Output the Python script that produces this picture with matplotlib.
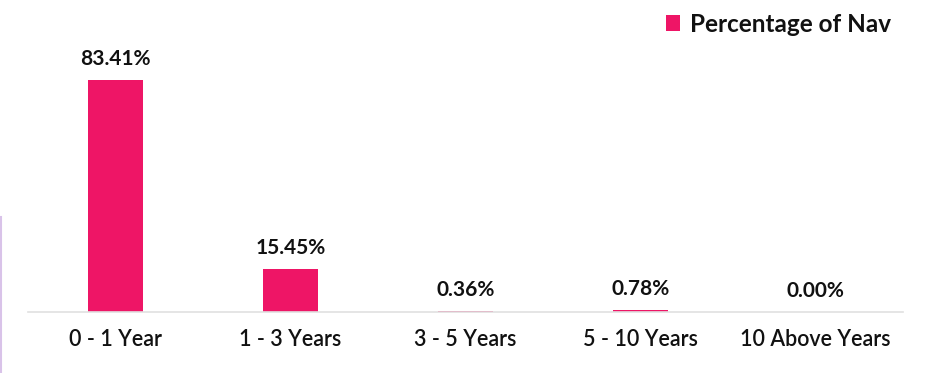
import matplotlib.pyplot as plt
from matplotlib.lines import Line2D

categories = ["0 - 1 Year", "1 - 3 Years", "3 - 5 Years", "5 - 10 Years", "10 Above Years"]
values = [83.41, 15.45, 0.36, 0.78, 0.00]
series_name = "Percentage of Nav"

BAR_COLOR = "#EE1566"

plt.rcParams["font.family"] = ["Lato", "DejaVu Sans"]

fig = plt.figure(figsize=(9.37, 3.73), dpi=100)
ax = fig.add_axes([28 / 937, 61 / 373, 875 / 937, 278 / 373])

x = range(len(categories))
bars = ax.bar(x, values, width=55 / 175, color=BAR_COLOR, label=series_name)

ax.set_xlim(-0.5, len(categories) - 0.5)
ax.set_ylim(0, 100)

for b, v in zip(bars, values):
    ax.annotate(f"{v:.2f}%", (b.get_x() + b.get_width() / 2, v),
                xytext=(0, 8), textcoords="offset points",
                ha="center", va="bottom", fontsize=15, fontweight="bold",
                color="#111111")

ax.set_xticks(list(x))
ax.set_xticklabels(categories, fontsize=15.5, fontweight="semibold", color="#111111")
ax.tick_params(axis="x", length=0, pad=12)
ax.set_yticks([])
for side in ["top", "right", "left"]:
    ax.spines[side].set_visible(False)
ax.spines["bottom"].set_color("#E0E0E0")
ax.spines["bottom"].set_linewidth(1.2)

# thin accent line at the left edge
fig.add_artist(Line2D([0.001, 0.001], [0, 156 / 373], transform=fig.transFigure,
                      color="#D9C3E9", linewidth=1.5))

leg = fig.legend(loc="upper right", bbox_to_anchor=(913 / 937, 1.025), frameon=False,
                 handlelength=0.6, handleheight=0.6, handletextpad=0.4,
                 prop={"size": 17.5, "weight": "bold"})
for t in leg.get_texts():
    t.set_color("#111111")

fig.savefig("out.png", dpi=100)
